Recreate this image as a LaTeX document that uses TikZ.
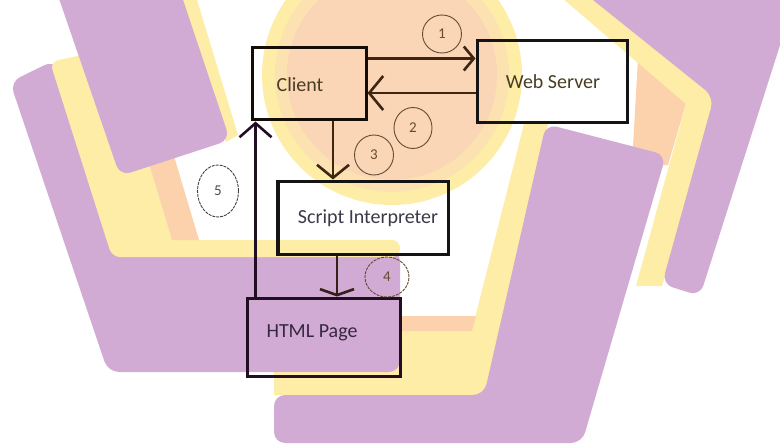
\documentclass[tikz,border=0pt]{standalone}
\usepackage{fontspec}
\setmainfont{Carlito}
\usetikzlibrary{arrows.meta,shapes.geometric}

\definecolor{lilac}{RGB}{209,171,212}
\definecolor{butter}{RGB}{254,237,166}
\definecolor{apricot}{RGB}{251,210,172}
\definecolor{disc}{RGB}{250,213,182}
\definecolor{discedge}{RGB}{252,226,176}
\definecolor{inkbrown}{RGB}{62,38,18}
\definecolor{inkplum}{RGB}{34,14,34}
\definecolor{numbrown}{RGB}{100,75,50}
\definecolor{txtolive}{RGB}{72,62,34}
\definecolor{txtgrey}{RGB}{58,58,72}
\definecolor{txtplum}{RGB}{54,40,64}

\begin{document}
\begin{tikzpicture}[x=1pt,y=-1pt,
  boxframe/.style={draw=black!92, line width=3pt, inner sep=0pt, fill=none},
  lbl/.style={font=\fontsize{20}{24}\selectfont, inner sep=0pt},
  flow/.style={draw=inkbrown, line width=2.6pt},
  badge/.style={ellipse, draw=numbrown, line width=0.9pt, inner sep=0pt,
    text=numbrown, font=\fontsize{15}{17}\selectfont},
  band/.style={rounded corners=11pt}]

\useasboundingbox (0,0) rectangle (780,444);

% ---------- decorative background ----------
\begin{scope}
\clip (0,0) rectangle (780,444);
\fill[white] (0,0) rectangle (780,444);

% upper right bracket
\fill[apricot] (625,45) -- (687,100) -- (668,165) -- (632,165) -- (638,58) -- cycle;
\fill[butter] (555,-8) -- (590,-8) -- (716,96) -- (662,286) -- (636,286) -- (686,104) -- cycle;
\fill[lilac, band] (583,-8) -- (714,97) -- (662,284) -- (700,296) -- (797,-8) -- cycle;

% lower centre bracket
\fill[butter] (524,124) -- (548,124) -- (484,395) -- (274,395) -- (274,330) -- (472,330) -- cycle;
\fill[apricot] (400,316) -- (476,316) -- (472,331) -- (400,331) -- cycle;
\fill[lilac, band] (546,124) -- (666,155) -- (582,443) -- (274,443) -- (274,395) -- (484,395) -- cycle;

% left bracket
\fill[lilac, band] (10,82) -- (55,60) -- (116,250) -- (400,250) -- (400,372) -- (108,372) -- cycle;
\fill[butter, rounded corners=8pt] (50,62) -- (114,48) -- (172,240) -- (400,240) -- (400,257) -- (112,257) -- cycle;
\fill[apricot] (114,48) -- (140,42) -- (199,240) -- (172,240) -- cycle;

% upper left slab and its edge strip
\fill[butter] (178,-10) -- (194,-10) -- (238,135) -- (226,142) -- cycle;
\fill[lilac, band] (44,-45) -- (168,-45) -- (230,140) -- (120,176) -- cycle;

% central disc
\fill[butter] (392,75) circle[radius=130pt];
\fill[discedge] (392,75) circle[radius=117pt];
\fill[disc] (392,75) circle[radius=105pt];
\end{scope}

% ---------- boxes ----------
\node[boxframe, draw=black!90!brown, minimum width=114pt, minimum height=72pt] (client) at (309,84) {};
\node[boxframe, minimum width=150pt, minimum height=82pt] (server) at (552,82) {};
\node[boxframe, minimum width=171pt, minimum height=73pt] (script) at (362.5,217.5) {};
\node[boxframe, draw=inkplum, minimum width=153pt, minimum height=78pt] (html) at (323.5,337) {};
\draw[line width=3pt, black!92] ([xshift=3pt]script.north west) -- ([xshift=3pt]script.south west);

\node[lbl, text=txtolive] (clienttxt) at (300,85) {Client};
\node[lbl, text=txtolive] (servertxt) at (553,82) {Web Server};
\node[lbl, text=txtgrey] (scripttxt) at (368,218) {Script Interpreter};
\node[lbl, text=txtplum] (htmltxt) at (312,333) {HTML Page};

% ---------- connectors ----------
\coordinate (a1) at ([yshift=-12pt]client.north east);
\coordinate (a2) at ([yshift=-11pt]server.west);
\coordinate (a3) at ([xshift=24pt]client.south);
\coordinate (a4) at ([xshift=-25.5pt]script.south);
\coordinate (a5) at ([xshift=10pt]html.north west);

\draw[flow, -{Straight Barb[length=10pt,width=24pt]}] (a1) -- (a1 -| server.west);
\draw[flow, -{Straight Barb[length=14pt,width=34pt]}] (a2) -- (a2 -| client.east);
\draw[flow, -{Straight Barb[length=13pt,width=32pt]}] (a3) -- (a3 |- script.north);
\draw[flow, draw=inkbrown!70!inkplum, -{Straight Barb[length=6pt,width=34pt]}] (a4) -- (a4 |- html.north);
\draw[flow, draw=inkplum, -{Straight Barb[length=14pt,width=32pt]}] (a5) -- (a5 |- client.south);

% ---------- step numbers ----------
\node[badge, minimum width=39pt, minimum height=38pt] (n1) at (442,34) {1};
\node[badge, minimum width=38pt, minimum height=41pt] (n2) at (413,128) {2};
\node[badge, minimum width=39pt, minimum height=40pt] (n3) at (374,155) {3};
\node[badge, dash pattern=on 3pt off 1pt, minimum width=44pt, minimum height=40pt] (n4) at (387,277) {4};
\node[badge, dash pattern=on 3pt off 1pt, draw=black!75, text=black!70, minimum width=41pt, minimum height=52pt] (n5) at (218,191) {5};
\end{tikzpicture}
\end{document}
